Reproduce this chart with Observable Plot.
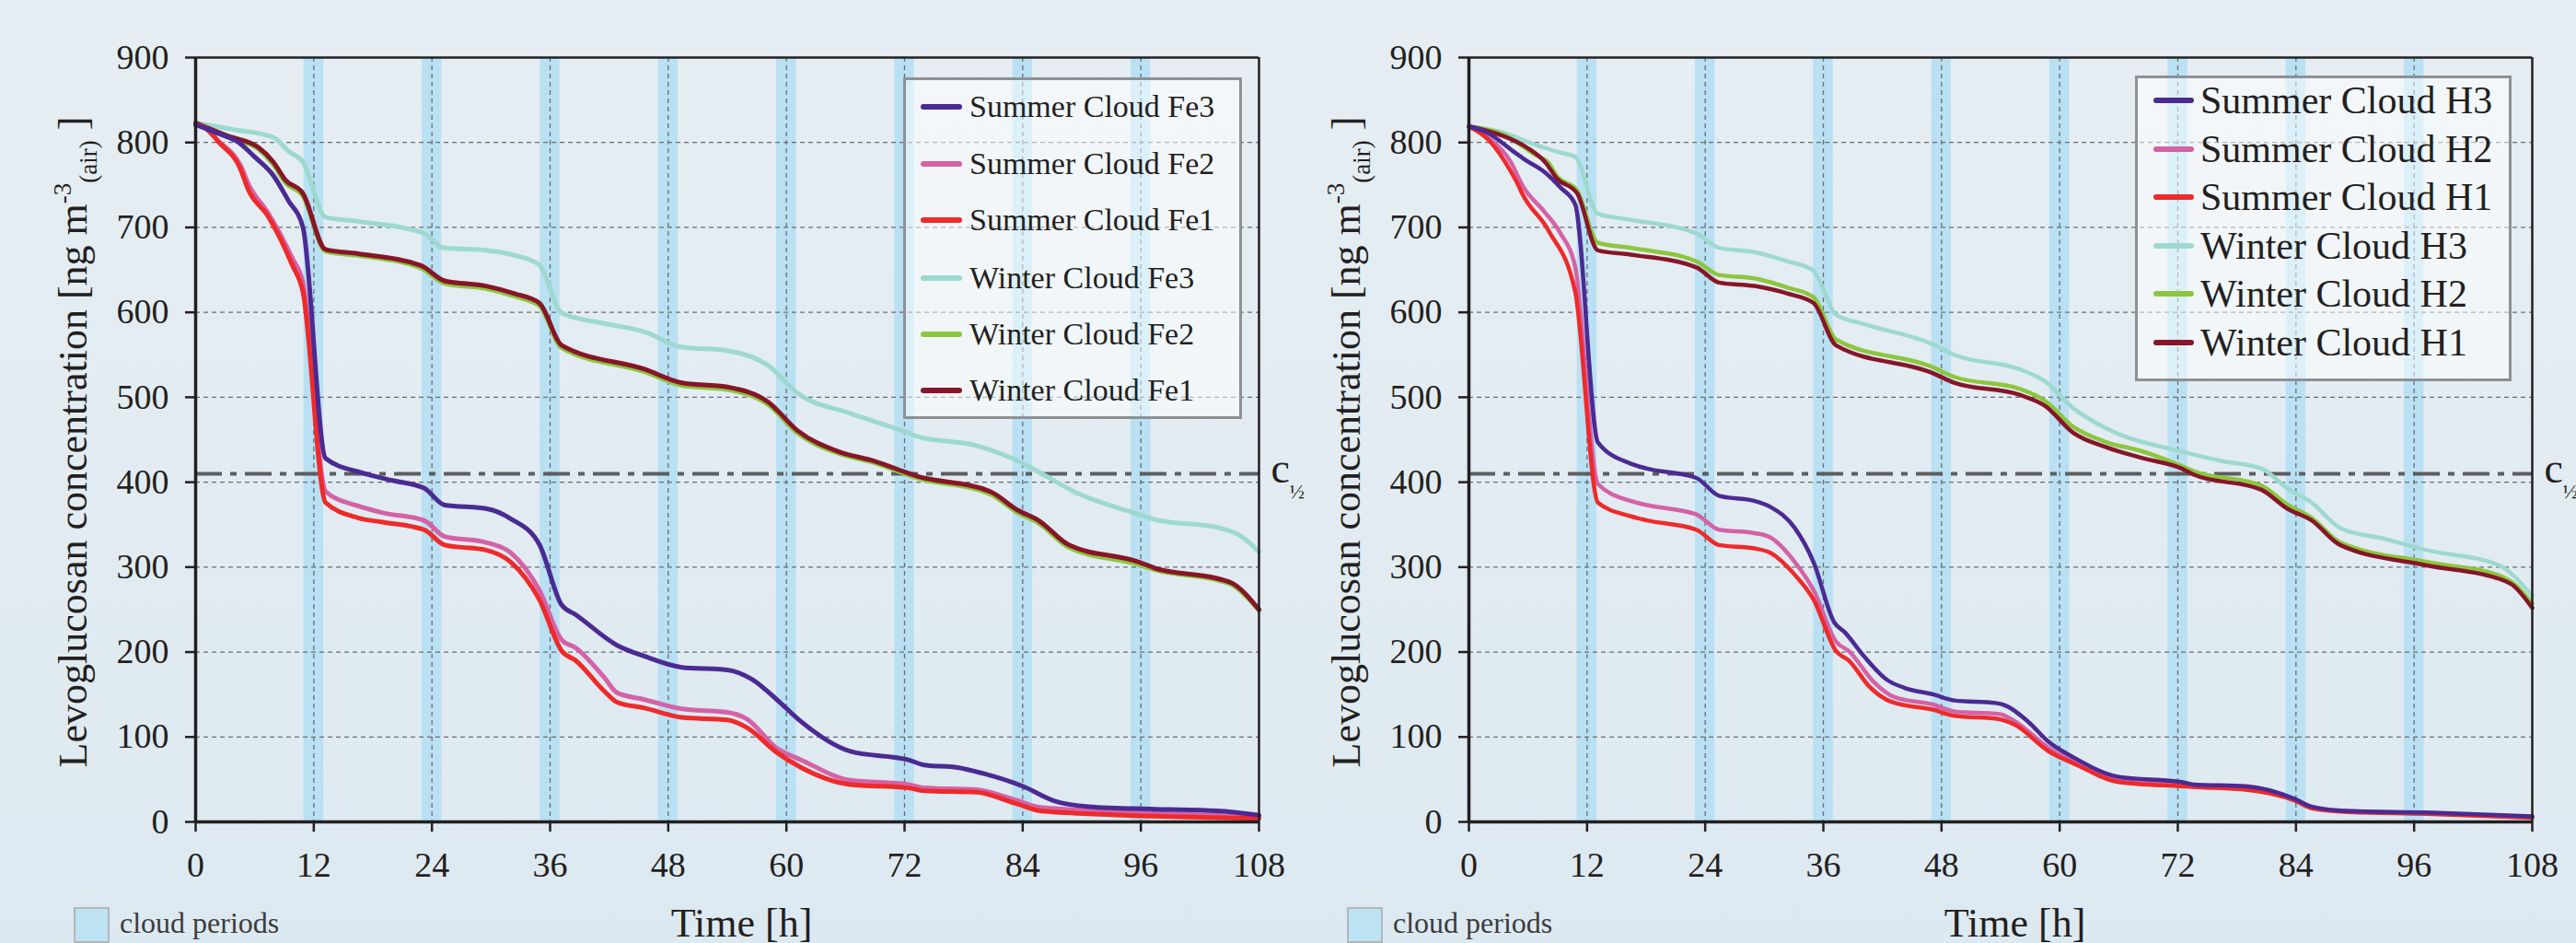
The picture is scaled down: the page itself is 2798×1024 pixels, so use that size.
<!DOCTYPE html>
<html>
<head>
<meta charset="utf-8">
<script src="https://cdn.jsdelivr.net/npm/d3@7"></script>
<script src="https://cdn.jsdelivr.net/npm/@observablehq/plot@0.6"></script>
<style>
  html, body { margin: 0; padding: 0; }
  body {
    width: 2798px; height: 1024px; overflow: hidden; position: relative;
    background: linear-gradient(180deg, #e6eef3 0%, #e1ebf1 60%, #dde9f1 100%);
    font-family: "Liberation Serif", "Times New Roman", serif; color: #231f20;
  }
  .panel { position: absolute; top: 0; }
  .panel svg { overflow: visible; font-family: "Liberation Serif", serif; }
  .panel svg text { font-family: "Liberation Serif", serif; }
  .legend-box {
    position: absolute; box-sizing: border-box;
    border: 3px solid #8d9194; background: rgba(255,255,255,0.5);
  }
  .legend-row { position: absolute; left: 0; display: flex; align-items: center; white-space: nowrap; }
  .legend-swatch { display: inline-block; height: 6px; border-radius: 3px; }
  .cloud-key { position: absolute; display: flex; align-items: center; white-space: nowrap; color: #3b3b3c; }
  .cloud-swatch { box-sizing: border-box; width: 39px; height: 39px; background: #bde2f3; border: 2px solid #b3b6b8; }
</style>
</head>
<body>
<script>
// ---------- data ----------
const timeTicks = [0, 12, 24, 36, 48, 60, 72, 84, 96, 108];
const concTicks = [0, 100, 200, 300, 400, 500, 600, 700, 800, 900];
const gridY = [100, 200, 300, 400, 500, 600, 700, 800];
const gridX = [12, 24, 36, 48, 60, 72, 84, 96];
const cloudPeriods = [[11, 13], [23, 25], [35, 37], [47, 49], [59, 61], [71, 73], [83, 85], [95, 97]];
const cHalf = 410;

const leftNames = ["Summer Cloud Fe3", "Summer Cloud Fe2", "Summer Cloud Fe1", "Winter Cloud Fe3", "Winter Cloud Fe2", "Winter Cloud Fe1"];
const rightNames = ["Summer Cloud H3", "Summer Cloud H2", "Summer Cloud H1", "Winter Cloud H3", "Winter Cloud H2", "Winter Cloud H1"];

// [time h, concentration ng m-3]
const summerFe3 = [[0,821],[2,812],[4.5,799],[6,783],[7.9,761],[9.4,732],[10.9,700],[13.2,428],[16.9,411],[20,402],[23.2,393],[25.3,373],[29.5,369],[32,357],[34.9,327],[37.2,255],[38.6,244],[42.8,208],[45.6,195],[49.4,182],[54,179],[56.5,168],[59.4,140],[61.5,118],[66.5,83],[72.4,73],[74,67],[77.4,64],[80,57],[84,42],[87.4,24],[90.7,18],[97.4,15],[103.7,13],[108,8]];
const summerFe2 = [[0,821],[1,817],[2.3,802],[4.6,772],[5.4,750],[7.3,718],[8.5,694],[9.8,664],[10.9,635],[13.2,389],[16.5,372],[19,364],[23.2,355],[25.3,336],[29.5,329],[32,317],[34.9,273],[37.2,214],[38.6,205],[41.5,170],[42.8,152],[45.6,144],[49.4,133],[54,129],[56,121],[59,87],[61.5,73],[66.5,49],[72.4,44],[74,40],[79.3,38],[83.2,26],[85.8,17],[91.9,13],[108,6]];
const summerFe1 = [[0,821],[1,817],[2.3,801],[4.5,770],[5.4,743],[7.3,714],[8.5,689],[9.8,656],[10.9,624],[13.2,376],[16.5,358],[19,353],[23.2,344],[25.3,326],[29.5,320],[32,306],[34.9,262],[37.2,201],[38.6,190],[41.5,154],[42.8,141],[45.6,134],[49.4,123],[54,120],[56,111],[59,82],[61.5,64],[66.5,44],[72.4,40],[74,36.5],[79.3,35],[83.2,22],[85.8,13],[91.9,9],[108,4]];
const winterFe3 = [[0,823],[4,815],[7.9,806],[9.4,790],[10.9,777],[13.2,712],[16.5,707],[23.2,693],[25.1,676],[29.5,673],[32.4,667],[34.9,656],[37.2,599],[41,588],[45.6,577],[49.4,559],[54,555],[58.2,537],[61.1,505],[66.5,481],[72.4,458],[73.3,454],[79.3,443],[83.5,425],[85.8,411],[89.2,389],[95.8,362],[97.4,356],[104,346],[106.1,337],[108,318]];
const winterFe2 = [[0,823],[3.2,807],[6.4,792],[7.9,774],[9.1,753],[10.9,737],[13.2,672],[16.5,667],[22.9,652],[25.3,634],[29.5,628],[32.4,619],[34.9,608],[37.2,558],[45.6,530],[49.4,514],[54,509],[58.2,491],[61.1,458],[65.3,434],[68.9,423],[73.3,405],[80.7,386],[83.5,364],[85.6,352],[88.7,323],[95.8,303],[97.4,297],[104,284],[105.3,279],[108,249]];
const winterFe1 = [[0,823],[3.2,808],[6.4,794],[7.9,777],[9.1,756],[10.9,740],[13.2,674],[16.5,669],[22.9,655],[25.3,637],[29.5,631],[32.4,622],[34.9,611],[37.2,561],[45.6,533],[49.4,517],[54,512],[58.2,494],[61.1,461],[65.3,436],[68.9,425],[73.3,407],[80.7,389],[83.5,367],[85.6,355],[88.7,326],[95.8,306],[97.4,299],[104,286],[105.3,281],[108,250]];

const summerH3 = [[0,819],[1.8,812],[4.7,788],[5.8,779],[7.7,765],[9.3,747],[10.8,727],[13.1,447],[16.4,422],[18.1,416],[23.1,405],[25.4,384],[29,378],[30.6,371],[33.1,346],[35,306],[37.1,235],[38.2,223],[40.2,194],[42.5,167],[44.2,158],[47.2,150],[49.3,143],[53.5,140],[54.7,136],[56.8,118],[58.9,94],[61.4,76],[66,53],[72.4,47],[73.6,44],[78.9,42],[83.9,27],[85.6,18],[88.9,13],[97.3,11],[108,6.5]];
const summerH2 = [[0,819],[2,805],[4.3,776],[5.4,750],[7.7,718],[9.3,693],[10.8,653],[13.1,398],[16.4,378],[18.1,373],[23.1,362],[25.4,344],[29,340],[30.6,335],[33.1,306],[35,273],[37.3,212],[38.6,201],[41.1,165],[43.2,147],[47.2,138],[49.3,130],[53.9,127],[55.5,118],[58.9,87],[61.4,71],[66,49],[72.4,44],[73.6,41],[78.9,39],[83.9,26],[85.6,17],[88.9,13],[97.3,10],[108,6]];
const summerH1 = [[0,819],[2,803],[4.3,765],[5,750],[5.4,740],[8.1,696],[10.8,624],[13.1,376],[16.4,360],[18.1,355],[23.1,344],[25.4,326],[29,322],[30.6,317],[33.1,291],[35,262],[37.3,201],[38.6,190],[40.7,159],[43,141],[47.2,132],[49.3,125],[53.9,121],[55.5,114],[58.9,83],[61.4,69],[66,47],[72.4,42],[78.9,38],[83.9,25],[85.6,16],[88.9,12],[97.3,9.6],[108,5]];
const winterH3 = [[0,819],[3.4,812],[6.8,797],[9.3,788],[10.8,783],[13.1,716],[16.4,709],[23.1,693],[25.4,676],[29,671],[32.4,660],[35,649],[37.3,597],[40.2,586],[47.2,562],[49.3,550],[55.9,533],[58.5,519],[61.4,487],[64.8,463],[72.4,436],[76.4,425],[80.5,416],[83.1,393],[85.6,376],[88.5,346],[93.1,333],[97.3,320],[104.7,302],[106,291],[108,266]];
const winterH2 = [[0,819],[3.4,810],[6.8,785],[8.1,776],[8.9,761],[11,743],[13.1,682],[16.4,676],[23.1,660],[25.4,644],[29,640],[32.4,629],[35,618],[37.3,568],[47.2,535],[49.3,524],[55.9,510],[58.5,496],[61.4,465],[64.8,447],[68.2,437],[72.4,419],[73.6,413],[80.5,396],[83.1,374],[85.6,358],[88.5,329],[97.3,306],[104.7,290],[106,282],[108,257]];
const winterH1 = [[0,819],[3.4,808],[5.9,794],[7.8,776],[8.9,758],[11,740],[13.1,673],[16.4,668],[23.1,653],[25.4,635],[29,631],[32.4,622],[35,611],[37.3,561],[47.2,528],[49.3,517],[55.9,503],[58.5,490],[61.4,458],[64.8,441],[68.2,429],[72.4,416],[73.6,409],[80.5,391],[83.1,369],[85.6,355],[88.5,326],[97.3,302],[104.7,286],[106,279],[108,252]];

// ---------- styles ----------
const colors = ["#4b2a92", "#d462a6", "#ee2a2a", "#9dd9cf", "#8cc63e", "#861628"];
const drawOrder = [3, 4, 5, 1, 2, 0];
const ink = "#231f20";
const serif = "Liberation Serif";

function buildPanel(cfg) {
  const div = document.createElement("div");
  div.className = "panel";
  div.style.left = cfg.left + "px";
  document.body.appendChild(div);

  const marks = [
    Plot.rect(cloudPeriods, {x1: d => d[0], x2: d => d[1], y1: () => 0, y2: () => 900, fill: "#b9e0f3"}),
    Plot.ruleY(gridY, {stroke: "#6b6d70", strokeWidth: 1.3, strokeDasharray: "5,4"}),
    Plot.ruleX(gridX, {stroke: "#6b6d70", strokeWidth: 1.3, strokeDasharray: "5,4"}),
    Plot.ruleY([cHalf], {stroke: "#5c5e60", strokeWidth: 4, strokeDasharray: "29,9,7,9"})
  ];
  for (const i of drawOrder) {
    marks.push(Plot.line(cfg.values[i], {
      x: d => d[0], y: d => d[1], stroke: colors[i], strokeWidth: cfg.lineWidth,
      curve: "monotone-x", strokeLinejoin: "round", strokeLinecap: "round"
    }));
  }
  marks.push(
    Plot.ruleY([900], {stroke: ink, strokeWidth: 2.5}),
    Plot.ruleX([108], {stroke: ink, strokeWidth: 2.5}),
    Plot.axisX({ticks: timeTicks, tickSize: 11, tickPadding: 22, label: null, stroke: ink, strokeWidth: 2.5, fontSize: 38, fontFamily: serif, fill: ink}),
    Plot.axisY({ticks: concTicks, tickSize: 11, tickPadding: 18, label: null, stroke: ink, strokeWidth: 2.5, fontSize: 38, fontFamily: serif, fill: ink}),
    Plot.ruleX([0], {stroke: ink, strokeWidth: 3.5}),
    Plot.ruleY([0], {stroke: ink, strokeWidth: 3.5}),
    Plot.text([cHalf], {x: () => 108, y: d => d, text: () => "c", textAnchor: "start", dx: 13, dy: -5, fontSize: 46, fontFamily: serif, fill: ink}),
    Plot.text([cHalf], {x: () => 108, y: d => d, text: () => "½", textAnchor: "start", dx: 33, dy: 20, fontSize: 22, fontFamily: serif, fill: ink})
  );

  const chart = Plot.plot({
    width: cfg.width, height: 1024,
    marginLeft: cfg.marginLeft, marginRight: cfg.marginRight, marginTop: 62, marginBottom: 132,
    x: {domain: [0, 108]},
    y: {domain: [0, 900]},
    style: {background: "transparent", fontFamily: serif, fontSize: "38px", color: ink, overflow: "visible"},
    marks
  });
  div.appendChild(chart);

  const svg = d3.select(chart);
  // y-axis title
  const yl = svg.append("text")
    .attr("transform", `translate(${cfg.marginLeft - 118},480) rotate(-90)`)
    .attr("text-anchor", "middle").attr("font-size", 44).attr("fill", ink)
    .attr("font-family", serif);
  yl.append("tspan").text("Levoglucosan concentration [ng m");
  yl.append("tspan").attr("font-size", 27).attr("dy", -17).text("-3");
  yl.append("tspan").attr("font-size", 27).attr("dy", 28).text("(air)");
  yl.append("tspan").attr("dy", -11).text(" ]");
  // x-axis title
  const plotCenter = cfg.marginLeft + (cfg.width - cfg.marginLeft - cfg.marginRight) / 2;
  svg.append("text")
    .attr("x", plotCenter + 16).attr("y", 1017)
    .attr("text-anchor", "middle").attr("font-size", 44).attr("fill", ink)
    .attr("font-family", serif)
    .text("Time [h]");

  // series legend (HTML overlay)
  const lb = cfg.legend;
  const box = document.createElement("div");
  box.className = "legend-box";
  Object.assign(box.style, {left: lb.x + "px", top: lb.y + "px", width: lb.w + "px", height: lb.h + "px"});
  cfg.names.forEach((name, i) => {
    const row = document.createElement("div");
    row.className = "legend-row";
    row.style.top = (lb.rows[i] - lb.y - 3 - 25) + "px";
    row.style.height = "50px";
    row.style.left = (lb.swX - lb.x - 3) + "px";
    const sw = document.createElement("span");
    sw.className = "legend-swatch";
    sw.style.width = lb.swW + "px";
    sw.style.background = colors[i];
    const tx = document.createElement("span");
    tx.textContent = name;
    tx.style.fontSize = lb.font + "px";
    tx.style.marginLeft = lb.gap + "px";
    tx.style.color = ink;
    row.appendChild(sw); row.appendChild(tx);
    box.appendChild(row);
  });
  document.body.appendChild(box);

  // cloud-period key
  const key = document.createElement("div");
  key.className = "cloud-key";
  Object.assign(key.style, {left: (cfg.left + cfg.marginLeft - 132) + "px", top: "985px"});
  const ks = document.createElement("span");
  ks.className = "cloud-swatch";
  const kt = document.createElement("span");
  kt.textContent = "cloud periods";
  kt.style.fontSize = "32px";
  kt.style.marginLeft = "11px";
  kt.style.marginTop = "-4px";
  key.appendChild(ks); key.appendChild(kt);
  document.body.appendChild(key);
}

buildPanel({
  left: 0, width: 1420, marginLeft: 212, marginRight: 53, lineWidth: 5,
  names: leftNames,
  values: [summerFe3, summerFe2, summerFe1, winterFe3, winterFe2, winterFe1],
  legend: {x: 981, y: 84, w: 368, h: 371, rows: [116, 178, 239, 302, 363, 424], swX: 1000, swW: 45, gap: 8, font: 34}
});
buildPanel({
  left: 1420, width: 1378, marginLeft: 175, marginRight: 48, lineWidth: 4.5,
  names: rightNames,
  values: [summerH3, summerH2, summerH1, winterH3, winterH2, winterH1],
  legend: {x: 2319, y: 82, w: 409, h: 332, rows: [109, 162, 214, 267, 319, 372], swX: 2339, swW: 44, gap: 7, font: 42}
});
</script>
</body>
</html>
